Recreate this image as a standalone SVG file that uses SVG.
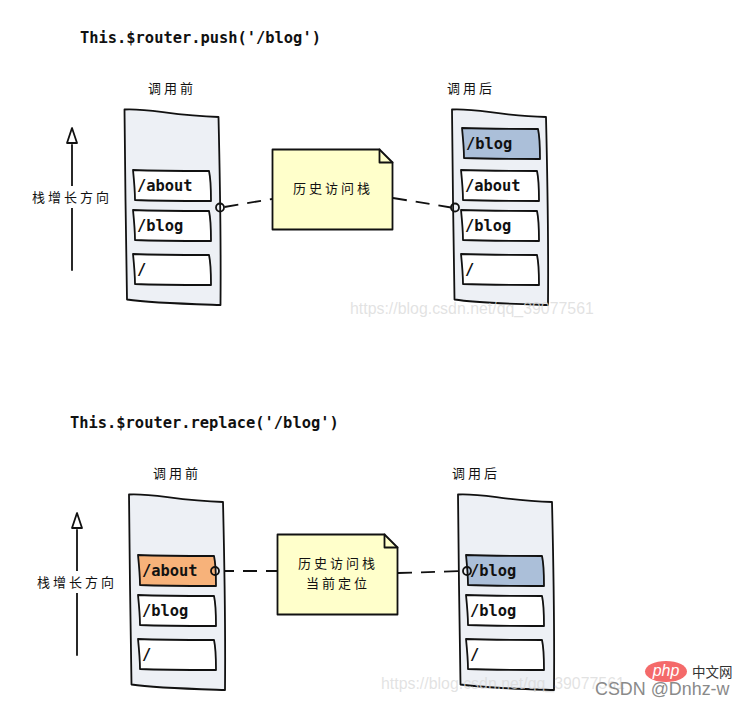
<svg xmlns="http://www.w3.org/2000/svg" xmlns:xlink="http://www.w3.org/1999/xlink" width="744" height="704" viewBox="0 0 744 704">
<style>
.ink{stroke:#111;stroke-width:1.8;stroke-linejoin:round;stroke-linecap:round}
.stack{fill:#edf0f5}
.cell{fill:#fff}
.mono{font-family:"DejaVu Sans Mono","Liberation Mono",monospace;font-weight:700;font-size:15.4px;fill:#111}
.hand{font-family:"Noto Sans CJK SC",sans-serif;font-size:13px;fill:#111;font-weight:400;text-anchor:middle}
.note{fill:#ffffcb}
.dash{fill:none;stroke:#111;stroke-width:1.8;stroke-dasharray:14 9}
.ring{fill:none;stroke:#111;stroke-width:1.8}
.mark{font-family:"Liberation Sans",Arial,sans-serif}
</style>
<defs>
<path id="stackShape" d="M124.5 109.500C150 108 172 116 218.500 117C220 180 221 250 220.500 305C190 304 150 303 127 299.500C126 240 125 170 124.500 109.500Z"/>
<path id="cellShape" d="M0 0C25 1 55 1 76 1C78 10 78 21 78 31C55 31 25 31 2 30C2 20 1 10 0 0Z"/>
<path id="noteShape" d="M0 0H107L120 13V80H0Z"/>
<path id="foldShape" d="M107 0V13H120"/>
<path id="arrowShape" d="M72 270V145"/>
<path id="headShape" d="M72 128L67 143H77Z"/>
</defs>

<g id="connectors">
<path class="dash" d="M224.500 207L272 199"/>
<path class="dash" d="M393 198L451 207.500"/>
<path class="dash" d="M220 571H277"/>
<path class="dash" d="M398 573L463 571"/>
</g>

<text id="title-push" class="mono" x="80" y="43">This.$router.push('/blog')</text>
<text id="title-replace" class="mono" x="70" y="428">This.$router.replace('/blog')</text>

<g id="stack-direction-top">
<use href="#arrowShape" class="ink" fill="none"/>
<use href="#headShape" class="ink" fill="#fff"/>
<rect x="30" y="186" width="84" height="22" fill="#fff"/>
<text class="hand" x="72" y="202" letter-spacing="3">栈增长方向</text>
</g>

<g id="before-top">
<text class="hand" x="172" y="93" letter-spacing="3">调用前</text>
<use href="#stackShape" class="ink stack"/>
<use href="#cellShape" x="133" y="170" class="ink cell"/>
<text class="mono" x="137" y="191">/about</text>
<use href="#cellShape" x="133" y="210" class="ink cell"/>
<text class="mono" x="137" y="231">/blog</text>
<use href="#cellShape" x="133" y="254" class="ink cell"/>
<text class="mono" x="137" y="275">/</text>
<circle class="ring" cx="220" cy="207.500" r="4"/>
</g>

<g id="note-top">
<use href="#noteShape" x="272.500" y="149.500" class="ink note"/>
<use href="#foldShape" x="272.500" y="149.500" class="ink" fill="none"/>
<text class="hand" x="333" y="193" letter-spacing="3">历史访问栈</text>
</g>

<g id="after-top">
<text class="hand" x="471" y="93" letter-spacing="3">调用后</text>
<use href="#stackShape" x="327.500" class="ink stack"/>
<use href="#cellShape" x="462" y="128" class="ink" fill="#abbfd9"/>
<text class="mono" x="466" y="149">/blog</text>
<use href="#cellShape" x="461" y="170" class="ink cell"/>
<text class="mono" x="465" y="191">/about</text>
<use href="#cellShape" x="461" y="210" class="ink cell"/>
<text class="mono" x="465" y="231">/blog</text>
<use href="#cellShape" x="461" y="254" class="ink cell"/>
<text class="mono" x="465" y="275">/</text>
<circle class="ring" cx="455" cy="207.500" r="4"/>
</g>

<g id="stack-direction-bottom">
<use href="#arrowShape" x="5" y="385" class="ink" fill="none"/>
<use href="#headShape" x="5" y="385" class="ink" fill="#fff"/>
<rect x="35" y="571" width="84" height="22" fill="#fff"/>
<text class="hand" x="77" y="587" letter-spacing="3">栈增长方向</text>
</g>

<g id="before-bottom">
<text class="hand" x="177" y="478" letter-spacing="3">调用前</text>
<use href="#stackShape" x="4.500" y="385" class="ink stack"/>
<use href="#cellShape" x="138" y="555" class="ink" fill="#f7b27a"/>
<text class="mono" x="142" y="576">/about</text>
<use href="#cellShape" x="138" y="595" class="ink cell"/>
<text class="mono" x="142" y="616">/blog</text>
<use href="#cellShape" x="138" y="639" class="ink cell"/>
<text class="mono" x="142" y="660">/</text>
<circle class="ring" cx="215" cy="571" r="4"/>
</g>

<g id="note-bottom">
<use href="#noteShape" x="277.500" y="534.500" class="ink note"/>
<use href="#foldShape" x="277.500" y="534.500" class="ink" fill="none"/>
<text class="hand" x="338" y="568" letter-spacing="3">历史访问栈</text>
<text class="hand" x="338" y="588" letter-spacing="3">当前定位</text>
</g>

<g id="after-bottom">
<text class="hand" x="476" y="478" letter-spacing="3">调用后</text>
<use href="#stackShape" x="333.500" y="385" class="ink stack"/>
<use href="#cellShape" x="466" y="555" class="ink" fill="#abbfd9"/>
<text class="mono" x="470" y="576">/blog</text>
<use href="#cellShape" x="466" y="595" class="ink cell"/>
<text class="mono" x="470" y="616">/blog</text>
<use href="#cellShape" x="466" y="639" class="ink cell"/>
<text class="mono" x="470" y="660">/</text>
<circle class="ring" cx="467" cy="571" r="4"/>
</g>

<g id="watermarks">
<text class="mark" x="350" y="314" font-size="15.900" fill="#d9d9d9" fill-opacity=".75">https://blog.csdn.net/qq_39077561</text>
<text class="mark" x="381" y="689" font-size="15.900" fill="#d9d9d9" fill-opacity=".75">https://blog.csdn.net/qq_39077561</text>
<ellipse cx="666" cy="671.500" rx="21" ry="10.500" fill="#f46a6a"/>
<text class="mark" x="666" y="676" font-size="16" font-style="italic" fill="#fff" text-anchor="middle">php</text>
<text x="692" y="677" font-family="Noto Sans CJK SC,sans-serif" font-size="13.500" fill="#333">中文网</text>
<text class="mark" x="595" y="695" font-size="17.900" fill="#8a8a8a">CSDN @Dnhz-w</text>
</g>
</svg>
